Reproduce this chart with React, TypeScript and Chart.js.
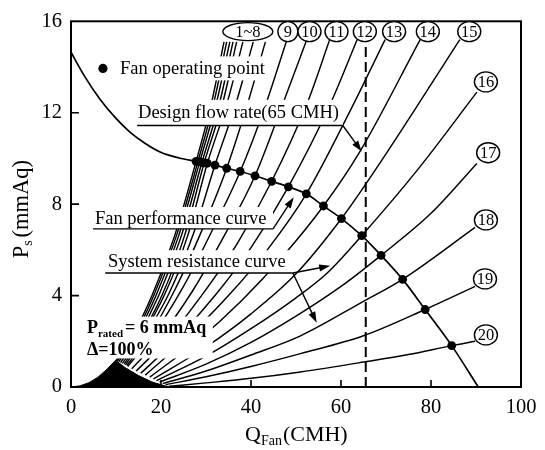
import { useEffect, useRef } from 'react';
import { Chart, registerables } from 'chart.js';

Chart.register(...registerables);

const FONT = '"Liberation Serif", "Times New Roman", serif';

// Axis ticks
const xTickValues = [0, 20, 40, 60, 80, 100];
const yTickValues = [0, 4, 8, 12, 16];
const innerXTicks = [20, 40, 60, 80];
const innerYTicks = [4, 8, 12];

// Design flow rate (dashed line)
const designFlowQ = 65.5;
const designFlowTopP = 14.9;

// Black hump at bottom-left (where the resistance curves converge)
const humpQ = [0, 2, 4, 6, 8, 9.9, 12, 15, 18, 21, 22.5];
const humpP = [0, 0.05, 0.19, 0.43, 0.78, 1.17, 0.85, 0.5, 0.22, 0.04, 0];

// Fan performance curve
const fanQ = [0, 3, 6.4, 10, 13.1, 16.5, 19.8, 24, 28.3, 32, 34.6, 37.6, 40.9, 44.6, 48.3, 52.3, 56.1, 60.1, 64.6, 68.9, 73.7, 78.7, 84.6, 90.5];
const fanP = [14.65, 13.6, 12.6, 11.75, 11.15, 10.65, 10.28, 10.02, 9.86, 9.71, 9.57, 9.43, 9.24, 9.0, 8.76, 8.45, 7.92, 7.37, 6.62, 5.76, 4.71, 3.39, 1.81, 0];

// Fan operating points (curves 1..20)
const opQ = [27.8, 28.2, 28.6, 29.1, 29.6, 30.3, 32, 34.6, 37.6, 40.9, 44.6, 48.3, 52.3, 56.1, 60.1, 64.6, 68.9, 73.7, 78.7, 84.6];
const opP = [9.87, 9.86, 9.85, 9.83, 9.81, 9.79, 9.71, 9.57, 9.43, 9.24, 9.0, 8.76, 8.45, 7.92, 7.37, 6.62, 5.76, 4.71, 3.39, 1.81];

// System resistance curves 1..20, [Q, P] points
const systemCurves: number[][][] = [
  [[10, 1.15], [13, 2.0], [18, 4.0], [23, 6.6], [27.8, 9.87], [31.3, 12.5], [34, 15.1]],
  [[10.3, 1.13], [13.4, 2.0], [18.4, 4.0], [23.4, 6.6], [28.2, 9.86], [31.8, 12.5], [34.6, 15.1]],
  [[10.6, 1.1], [13.8, 2.0], [18.9, 4.0], [23.9, 6.6], [28.6, 9.85], [32.4, 12.5], [35.3, 15.1]],
  [[11, 1.07], [14.3, 2.0], [19.5, 4.0], [24.5, 6.6], [29.1, 9.83], [33.1, 12.5], [36, 15.1]],
  [[11.4, 1.03], [14.8, 2.0], [20.2, 4.0], [25.2, 6.6], [29.6, 9.81], [33.8, 12.5], [36.8, 15.1]],
  [[11.8, 1.0], [15.3, 2.05], [20.8, 4.05], [25.9, 6.6], [30.3, 9.79], [34.8, 12.5], [38.2, 15.1]],
  [[12.1, 0.97], [16, 2.1], [21.8, 4.1], [27.2, 6.7], [32, 9.71], [36.8, 12.5], [40.5, 15.1]],
  [[12.4, 0.94], [16.9, 2.1], [23.2, 4.3], [29.3, 6.95], [34.6, 9.57], [39.4, 12.5], [43.2, 15.1]],
  [[12.6, 0.9], [18, 2.2], [25, 4.4], [31.5, 6.9], [37.6, 9.43], [43, 12.2], [48, 15.2]],
  [[13.5, 0.8], [19.5, 2.1], [27, 4.2], [34, 6.6], [40.9, 9.24], [47.6, 12.67], [52.4, 15.2]],
  [[14.5, 0.7], [21, 2.0], [29, 4.0], [37, 6.3], [44.6, 9.0], [52.4, 12.37], [57.5, 15.2]],
  [[15.5, 0.6], [23, 2.0], [32, 4.0], [40, 6.1], [48.3, 8.76], [57.6, 12.37], [63.6, 15.2]],
  [[16.5, 0.52], [25, 2.0], [35, 4.0], [44, 6.1], [52.3, 8.45], [62, 12.07], [69.8, 15.2]],
  [[17.5, 0.43], [28, 2.0], [38, 3.8], [47, 5.7], [56.1, 7.92], [64.2, 10.3], [77.6, 15.2]],
  [[18.3, 0.35], [30, 1.75], [40, 3.2], [50, 4.95], [60.1, 7.37], [70, 10.2], [86.4, 15.2]],
  [[19, 0.28], [30, 1.35], [40, 2.55], [50, 3.9], [57, 5.0], [64.6, 6.62], [77, 9.5], [90.2, 12.9]],
  [[19.7, 0.22], [30, 1.0], [40, 1.95], [50, 3.1], [60, 4.4], [68.9, 5.76], [80, 7.6], [90.2, 9.78]],
  [[20.4, 0.15], [30, 0.7], [40, 1.4], [51, 2.24], [65, 3.75], [73.7, 4.71], [89.8, 6.98]],
  [[21, 0.1], [30, 0.45], [40, 0.9], [51, 1.46], [65, 2.24], [78.7, 3.39], [89.8, 4.4]],
  [[21.8, 0.03], [30, 0.18], [40, 0.38], [51, 0.66], [65, 1.09], [75, 1.42], [84.6, 1.81], [89.8, 2.0]],
];

// Circled curve labels
const curveLabelText = ['1~8', '9', '10', '11', '12', '13', '14', '15', '16', '17', '18', '19', '20'];
const curveLabelQ = [39.3, 48.2, 53.0, 59.0, 65.3, 71.8, 79.3, 88.5, 92.2, 92.7, 92.2, 92.0, 92.2];
const curveLabelP = [15.55, 15.55, 15.55, 15.55, 15.55, 15.55, 15.55, 15.55, 13.35, 10.25, 7.31, 4.73, 2.28];

const pts = (qs: number[], ps: number[]) => qs.map((q, i) => ({ x: q, y: ps[i] }));

function drawArrow(ctx: CanvasRenderingContext2D, x1: number, y1: number, x2: number, y2: number) {
  const ang = Math.atan2(y2 - y1, x2 - x1);
  const len = 11;
  const hw = 3.6;
  ctx.beginPath();
  ctx.moveTo(x1, y1);
  ctx.lineTo(x2 - Math.cos(ang) * len * 0.8, y2 - Math.sin(ang) * len * 0.8);
  ctx.stroke();
  ctx.beginPath();
  ctx.moveTo(x2, y2);
  ctx.lineTo(x2 - Math.cos(ang) * len - Math.sin(ang) * hw, y2 - Math.sin(ang) * len + Math.cos(ang) * hw);
  ctx.lineTo(x2 - Math.cos(ang) * len + Math.sin(ang) * hw, y2 - Math.sin(ang) * len - Math.cos(ang) * hw);
  ctx.closePath();
  ctx.fill();
}

const annotations = {
  id: 'annotations',
  afterDatasetsDraw(chart: any) {
    const { ctx, chartArea: a, scales } = chart;
    const X = (q: number) => scales.x.getPixelForValue(q);
    const Y = (p: number) => scales.y.getPixelForValue(p);
    ctx.save();
    ctx.strokeStyle = '#000';
    ctx.fillStyle = '#000';
    ctx.lineCap = 'butt';

    // frame
    ctx.lineWidth = 2;
    ctx.strokeRect(a.left, a.top, a.right - a.left, a.bottom - a.top);

    // inward ticks
    ctx.lineWidth = 1.6;
    ctx.beginPath();
    innerXTicks.forEach((q) => {
      ctx.moveTo(X(q), a.bottom);
      ctx.lineTo(X(q), a.bottom - 7);
    });
    innerYTicks.forEach((p) => {
      ctx.moveTo(a.left, Y(p));
      ctx.lineTo(a.left + 8, Y(p));
    });
    ctx.stroke();

    const mainFont = `18.5px ${FONT}`;
    ctx.textBaseline = 'middle';
    ctx.textAlign = 'left';

    const whiteBox = (x0: number, y0: number, x1: number, y1: number) => {
      ctx.save();
      ctx.fillStyle = '#fff';
      ctx.fillRect(x0, y0, x1 - x0, y1 - y0);
      ctx.restore();
    };

    // Legend: Fan operating point
    ctx.font = mainFont;
    {
      const tx = X(10.9);
      const ty = Y(13.94);
      const w = ctx.measureText('Fan operating point').width;
      whiteBox(tx - 3, ty - 12, tx + w + 3, ty + 12);
      ctx.fillText('Fan operating point', tx, ty + 1);
      ctx.beginPath();
      ctx.arc(X(7.1), Y(13.94), 4.6, 0, Math.PI * 2);
      ctx.fill();
    }

    // Design flow rate
    {
      const tx = X(14.9);
      const ty = Y(12.04);
      const uy = Y(11.44);
      const w = ctx.measureText('Design flow rate(65 CMH)').width;
      whiteBox(tx - 3, ty - 12, X(60.4), uy);
      ctx.fillText('Design flow rate(65 CMH)', tx, ty + 1);
      ctx.lineWidth = 1.4;
      ctx.beginPath();
      ctx.moveTo(X(14.7), uy);
      ctx.lineTo(Math.max(X(60.4), tx + w), uy);
      ctx.stroke();
      drawArrow(ctx, X(60.4), uy, X(64.6), Y(10.3));
    }

    // Fan performance curve
    {
      const tx = X(5.33);
      const ty = Y(7.35);
      const uy = Y(6.92);
      ctx.font = mainFont;
      whiteBox(tx - 3, ty - 12, X(44.9), uy);
      ctx.fillText('Fan performance curve', tx, ty);
      ctx.lineWidth = 1.4;
      ctx.beginPath();
      ctx.moveTo(X(4.9), uy);
      ctx.lineTo(X(44.9), uy);
      ctx.stroke();
      drawArrow(ctx, X(44.9), uy, X(49.5), Y(8.3));
    }

    // System resistance curve
    {
      const tx = X(8.2);
      const ty = Y(5.46);
      const uy = Y(4.99);
      whiteBox(tx - 3, ty - 12, X(49.3), uy);
      ctx.fillText('System resistance curve', tx, ty);
      ctx.lineWidth = 1.4;
      ctx.beginPath();
      ctx.moveTo(X(7.6), uy);
      ctx.lineTo(X(49.3), uy);
      ctx.stroke();
      drawArrow(ctx, X(49.3), uy, X(57.6), Y(5.3));
      drawArrow(ctx, X(49.3), uy, X(54.6), Y(2.81));
    }

    // P_rated text
    {
      const tx = X(3.55);
      const ty1 = Y(2.58);
      const ty2 = Y(1.59);
      whiteBox(a.left + 1, Y(3.08), X(31.5), Y(1.25));
      const big = `bold 18px ${FONT}`;
      const small = `bold 11px ${FONT}`;
      ctx.font = big;
      ctx.fillText('P', tx, ty1);
      let cx = tx + ctx.measureText('P').width;
      ctx.font = small;
      ctx.fillText('rated', cx, ty1 + 6);
      cx += ctx.measureText('rated').width + 2;
      ctx.font = big;
      ctx.fillText('= 6 mmAq', cx, ty1);
      ctx.fillText('\u0394=100%', tx, ty2);
    }

    // Circled curve labels
    ctx.font = `16.5px ${FONT}`;
    ctx.textAlign = 'center';
    ctx.lineWidth = 1.4;
    curveLabelText.forEach((t, i) => {
      const cx = X(curveLabelQ[i]);
      const cy = Y(curveLabelP[i]);
      const rx = t === '1~8' ? 25 : t.length === 1 ? 10 : 11.5;
      const ry = t === '1~8' ? 9 : 10;
      ctx.beginPath();
      ctx.ellipse(cx, cy, rx, ry, 0, 0, Math.PI * 2);
      ctx.save();
      ctx.fillStyle = '#fff';
      ctx.fill();
      ctx.restore();
      ctx.stroke();
      ctx.fillText(t, cx, cy + 1);
    });

    ctx.restore();
  },
  afterDraw(chart: any) {
    const { ctx, chartArea: a } = chart;
    ctx.save();
    ctx.fillStyle = '#000';
    ctx.textBaseline = 'middle';
    // X title: Q_Fan(CMH)
    {
      const big = `22px ${FONT}`;
      const small = `14px ${FONT}`;
      ctx.font = big;
      const wQ = ctx.measureText('Q').width;
      const wR = ctx.measureText('(CMH)').width;
      ctx.font = small;
      const wS = ctx.measureText('Fan').width;
      let x0 = 245;
      const y0 = 435;
      ctx.textAlign = 'left';
      ctx.font = big;
      ctx.fillText('Q', x0, y0);
      x0 += wQ;
      ctx.font = small;
      ctx.fillText('Fan', x0, y0 + 6);
      x0 += wS + 1;
      ctx.font = big;
      ctx.fillText('(CMH)', x0, y0);
      void wR;
    }
    // Y title: P_s(mmAq)
    {
      ctx.translate(22, (a.top + a.bottom) / 2 + 5);
      ctx.rotate(-Math.PI / 2);
      const big = `22.5px ${FONT}`;
      const small = `14px ${FONT}`;
      ctx.font = big;
      const wP = ctx.measureText('P').width;
      const wR = ctx.measureText('(mmAq)').width;
      ctx.font = small;
      const wS = ctx.measureText('s').width;
      const total = wP + wS + wR + 3;
      let x0 = -total / 2;
      ctx.textAlign = 'left';
      ctx.font = big;
      ctx.fillText('P', x0, 0);
      x0 += wP;
      ctx.font = small;
      ctx.fillText('s', x0, 6);
      x0 += wS + 3;
      ctx.font = big;
      ctx.fillText('(mmAq)', x0, 0);
    }
    ctx.restore();
  },
};

export default function App() {
  const ref = useRef<HTMLCanvasElement>(null);
  useEffect(() => {
    if (!ref.current) return;
    const lineDs = (data: any[], width: number, extra: any = {}) => ({
      data,
      showLine: true,
      borderColor: '#000',
      borderWidth: width,
      pointRadius: 0,
      fill: false,
      cubicInterpolationMode: 'monotone',
      ...extra,
    });
    const datasets: any[] = [];
    datasets.push(
      lineDs(pts(humpQ, humpP), 1, {
        fill: 'origin',
        backgroundColor: '#000',
        cubicInterpolationMode: 'default',
        tension: 0,
      })
    );
    systemCurves.forEach((c) => {
      datasets.push(lineDs(c.map(([q, p]) => ({ x: q, y: p })), 1.45));
    });
    datasets.push(lineDs(pts(fanQ, fanP), 1.7));
    datasets.push({
      data: pts(opQ, opP),
      showLine: false,
      pointRadius: 4.4,
      pointBackgroundColor: '#000',
      pointBorderWidth: 0,
    });
    datasets.push(
      lineDs(
        [
          { x: designFlowQ, y: 0 },
          { x: designFlowQ, y: designFlowTopP },
        ],
        2,
        { borderDash: [10, 5], cubicInterpolationMode: 'default', tension: 0 }
      )
    );

    const chart = new Chart(ref.current, {
      type: 'scatter',
      data: { datasets },
      options: {
        responsive: false,
        animation: false,
        devicePixelRatio: 1,
        layout: { padding: { left: 0, right: 24, top: 15, bottom: 0 } },
        plugins: { legend: { display: false }, tooltip: { enabled: false } },
        scales: {
          x: {
            type: 'linear',
            min: 0,
            max: 100,
            afterBuildTicks: (s: any) => {
              s.ticks = xTickValues.map((v) => ({ value: v }));
            },
            afterFit: (s: any) => {
              s.height = 63;
            },
            grid: { display: false, drawTicks: false },
            border: { display: false },
            ticks: { color: '#000', font: { family: FONT, size: 20.5 }, padding: 8, maxRotation: 0 },
          },
          y: {
            type: 'linear',
            min: 0,
            max: 16,
            afterBuildTicks: (s: any) => {
              s.ticks = yTickValues.map((v) => ({ value: v }));
            },
            afterFit: (s: any) => {
              s.width = 71;
            },
            grid: { display: false, drawTicks: false },
            border: { display: false },
            ticks: { color: '#000', font: { family: FONT, size: 20.5 }, padding: 9 },
          },
        },
      } as any,
      plugins: [annotations],
    });
    return () => chart.destroy();
  }, []);
  return (
    <div style={{ position: 'absolute', left: 0, top: 0, width: 545, height: 450, background: '#fff' }}>
      <canvas ref={ref} width={545} height={450} style={{ display: 'block', width: 545, height: 450 }} />
    </div>
  );
}
